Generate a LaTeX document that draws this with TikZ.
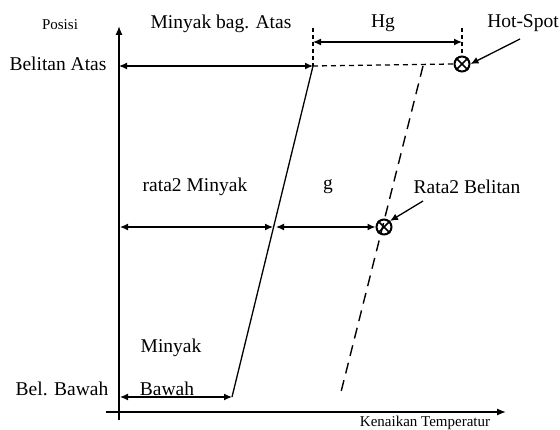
\documentclass[tikz,border=0pt]{standalone}
\usepackage{fontspec}
\setmainfont{Liberation Serif}
\usetikzlibrary{arrows.meta}
\tikzset{
  lbl/.style={inner sep=0pt, font=\fontsize{19.5}{22}\selectfont},
  small/.style={inner sep=0pt, font=\fontsize{15}{18}\selectfont},
  axis/.style={line width=1.3pt, -{Latex[length=9pt,width=7pt]}},
  dbl/.style={line width=1.3pt, {Latex[length=8pt,width=7pt]}-{Latex[length=8pt,width=7pt]}},
  single/.style={line width=1.3pt, -{Latex[length=8pt,width=7pt]}},
  hdash/.style={line width=1.3pt, dash pattern=on 5pt off 4pt},
  sdash/.style={line width=1.4pt, dash pattern=on 11pt off 7pt},
  vdash/.style={line width=1.1pt, dash pattern=on 4pt off 3pt},
  otim/.style={circle, draw, line width=2pt, minimum size=15pt, inner sep=0pt}
}
\begin{document}
\begin{tikzpicture}[x=1pt,y=-1pt]
\useasboundingbox (0,0) rectangle (560,430);
% axes
\coordinate (yb) at (119,420);
\coordinate (yt) at (119,26);
\coordinate (xl) at (106,412);
\coordinate (xr) at (506,412);
\draw[axis] (yb) -- (yt);
\draw[axis] (xl) -- (xr);
% key points
\coordinate (ta) at (119,66);
\coordinate (tb) at (313,66);
\coordinate (bb0) at (120,397);
\coordinate (bb1) at (232,397);
\coordinate (ds0) at (423,66);
\coordinate (ds1) at (340,396);
\coordinate (hgl) at (313,28);
\coordinate (hgr) at (462,28);
\coordinate (hga) at (313,42);
\coordinate (hgb) at (462,42);
\coordinate (ml0) at (120,227);
\coordinate (ml1) at (273,227);
\coordinate (mr0) at (276,227);
% circles
\node[otim] (hot) at (462,64) {};
\draw[line width=1.6pt] (hot.45) -- (hot.225) (hot.135) -- (hot.315);
\node[otim] (rbc) at (384,227) {};
\draw[line width=1.6pt] (rbc.45) -- (rbc.225) (rbc.135) -- (rbc.315);
% solid slanted line (oil)
\draw[line width=1.3pt] (tb) -- (bb1);
% dashed slanted line (winding)
\draw[sdash] (ds0) -- (ds1);
% top dashed horizontal
\draw[hdash] (tb) -- (hot.west);
% Hg dashed verticals and arrow
\draw[vdash] (hgl) -- (tb);
\draw[vdash] (hgr) -- (hot.north);
\draw[dbl] (hga) -- (hgb);
% arrows
\draw[dbl] (ta) -- (tb);
\draw[dbl] (ml0) -- (ml1);
\draw[dbl] (mr0) -- (rbc.west);
\draw[dbl] (bb0) -- (bb1);
% labels
\node[small] (posisi) at (60,25) {Posisi};
\node[lbl] (mba) at (221,24) {Minyak bag. Atas};
\node[lbl] (ba) at (58,64) {Belitan Atas};
\node[lbl] (hg) at (383,23) {Hg};
\node[lbl] (hs) at (523,23) {Hot-Spot};
\node[lbl] (rm) at (195,187) {rata2 Minyak};
\node[lbl] (g) at (328,187) {g};
\node[lbl] (rb) at (467,187) {Rata2 Belitan};
\node[lbl] (mi) at (171,348) {Minyak};
\node[lbl] (bw) at (167,389) {Bawah};
\node[lbl] (bbl) at (62,389) {Bel. Bawah};
\node[small] (kt) at (425,423) {Kenaikan Temperatur};
% pointer arrows
\coordinate (hsa) at (520,39);
\coordinate (rba) at (423,201);
\draw[single] (hsa) -- (hot.east);
\draw[single] (rba) -- (rbc.north east);
\end{tikzpicture}
\end{document}
